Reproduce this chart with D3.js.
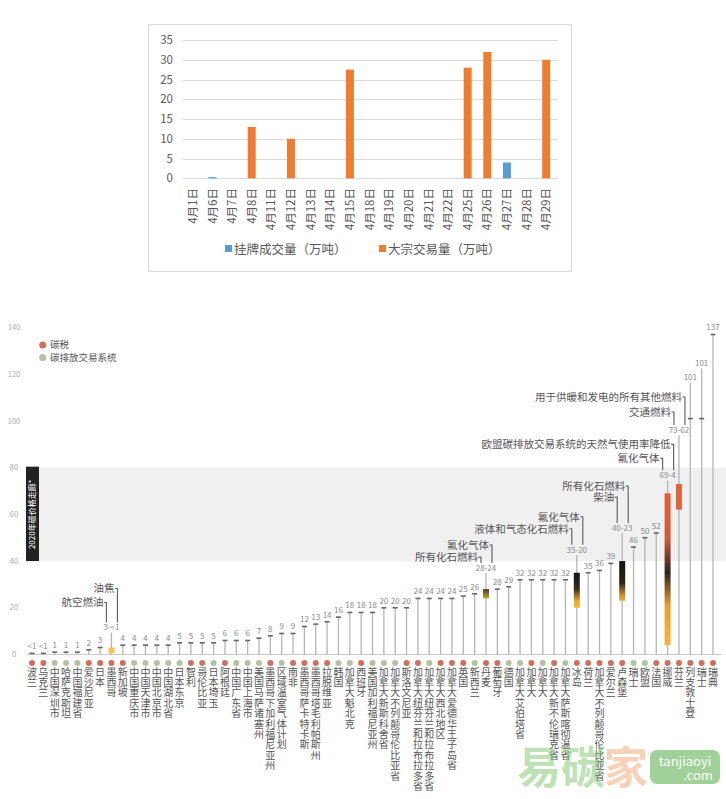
<!DOCTYPE html>
<html><head><meta charset="utf-8">
<script src="https://cdn.jsdelivr.net/npm/d3@7"></script>
<style>body{margin:0;background:#fff;} svg{display:block;font-family:"Noto Sans CJK SC","Noto Sans",sans-serif;}</style>
</head><body><svg id="c" width="726" height="799"></svg>
<script>
// ---------- top chart data ----------
const dates = ["4月1日","4月6日","4月7日","4月8日","4月11日","4月12日","4月13日","4月14日","4月15日","4月18日","4月19日","4月20日","4月21日","4月22日","4月25日","4月26日","4月27日","4月28日","4月29日"];
const listedVolume = [0,0.3,0,0,0,0,0,0,0,0,0,0,0,0,0,0,4,0,0];
const blockVolume  = [0,0,0,13,0,10,0,0,27.5,0,0,0,0,0,28,32,0,0,30];
const seriesNames = ["挂牌成交量（万吨）","大宗交易量（万吨）"];
const volumeTicks = [0,5,10,15,20,25,30,35];

// ---------- bottom chart data ----------
const regions = ["波兰","乌克兰","中国深圳市","哈萨克斯坦","中国福建省","爱沙尼亚","日本","墨西哥","新加坡","中国重庆市","中国天津市","中国北京市","中国湖北省","日本东京","智利","哥伦比亚","日本埼玉","阿根廷","中国广东省","中国上海市","美国马萨诸塞州","墨西哥下加利福尼亚州","区域温室气体计划","南非","墨西哥萨卡特卡斯","墨西哥塔毛利帕斯州","拉脱维亚","韩国","加拿大魁北克","西班牙","美国加利福尼亚州","加拿大新斯科舍省","加拿大不列颠哥伦比亚省","斯洛文尼亚","加拿大纽芬兰和拉布拉多省","加拿大纽芬兰和拉布拉多省","加拿大西北地区","加拿大爱德华王子岛省","英国","新西兰","丹麦","葡萄牙","德国","加拿大艾伯塔省","加拿大","加拿大","加拿大新不伦瑞克省","加拿大萨斯喀彻温省","冰岛","荷兰","加拿大不列颠哥伦比亚省","爱尔兰","卢森堡","瑞士","欧盟","法国","挪威","芬兰","列支敦士登","瑞士","瑞典"];
const priceHigh = [0.5,0.5,1,1,1,2,3,3,4,4,4,4,4,5,5,5,5,6,6,6,7,8,9,9,12,13,14,16,18,18,18,20,20,20,24,24,24,24,25,26,28,28,29,32,32,32,32,32,35,35,36,39,40,46,50,52,69,73,101,101,137];
const priceLow = [null,null,null,null,null,null,null,0.5,null,null,null,null,null,null,null,null,null,null,null,null,null,null,null,null,null,null,null,null,null,null,null,null,null,null,null,null,null,null,null,null,24,null,null,null,null,null,null,null,20,null,null,null,23,null,null,null,4,62,null,null,null];
const instrument = ["t","t","e","e","e","t","t","t","t","e","e","e","e","e","t","t","e","t","e","e","e","t","e","t","t","t","t","e","e","t","e","e","e","t","t","e","t","t","t","e","t","t","e","e","t","e","t","e","t","t","t","t","t","e","e","t","t","t","t","t","t"];
const priceTicks = [0,20,40,60,80,100,120,140];
const legendLabels = ["碳税","碳排放交易系统"];
const corridor = [40,80];
const corridorLabel = "2020年碳价格走廊*";
const annotations = [
  {i:7,  text:"油焦", side:1},  {i:7,  text:"航空燃油", side:-1},
  {i:40, text:"氟化气体", side:1}, {i:40, text:"所有化石燃料", side:-1},
  {i:48, text:"氟化气体", side:1}, {i:48, text:"液体和气态化石燃料", side:-1},
  {i:52, text:"所有化石燃料", side:1}, {i:52, text:"柴油", side:-1},
  {i:56, text:"欧盟碳排放交易系统的天然气使用率降低", side:1}, {i:56, text:"氟化气体", side:-1},
  {i:57, text:"用于供暖和发电的所有其他燃料", side:1}, {i:57, text:"交通燃料", side:-1}
];

// ---------- layout / style ----------
const labelLift = {7:20, 40:21, 48:23, 52:33, 56:18, 57:54, 58:41, 59:55};
const annLift = {7:[39,25], 40:[23,11], 48:[33,21], 52:[42,31], 56:[31,17], 57:[33,18]};
const rangeFill = {7:"url(#gMex)", 40:"url(#gDen)", 48:"url(#gIce)", 52:"url(#gLux)", 56:"url(#gNor)", 57:"#e0653e"};

const svg = d3.select("#c");
const defs = svg.append("defs");
function grad(id, stops){
  const g = defs.append("linearGradient").attr("id",id).attr("x1",0).attr("y1",0).attr("x2",0).attr("y2",1);
  stops.forEach(s=>g.append("stop").attr("offset",s[0]).attr("stop-color",s[1]));
}
grad("gMex",[[0,"#f0c050"],[1,"#f3c85a"]]);
grad("gDen",[[0,"#4a4222"],[1,"#caa23e"]]);
grad("gIce",[[0,"#141414"],[0.45,"#352c1c"],[0.8,"#e7a832"],[1,"#f2ba42"]]);
grad("gLux",[[0,"#141414"],[0.55,"#2a2418"],[0.85,"#c89030"],[1,"#e8ae3c"]]);
grad("gNor",[[0,"#e2613c"],[0.3,"#d05a36"],[0.52,"#2a2220"],[0.74,"#e6a030"],[1,"#f3b43e"]]);

// ===== TOP CHART =====
const topG = svg.append("g");
topG.append("rect").attr("x",148.5).attr("y",24.5).attr("width",423).attr("height",247)
  .attr("fill","#fff").attr("stroke","#d9d9d9");
const x1 = d3.scaleBand().domain(dates).range([183,556]);
const y1 = d3.scaleLinear().domain([0,35]).range([178.3,40]);
topG.selectAll("line.g").data(volumeTicks).join("line")
  .attr("x1",183).attr("x2",558).attr("y1",d=>Math.round(y1(d))+0.5).attr("y2",d=>Math.round(y1(d))+0.5)
  .attr("stroke","#d9d9d9").attr("stroke-width",1);
topG.selectAll("text.yl").data(volumeTicks).join("text")
  .attr("x",173).attr("y",d=>y1(d)).attr("dy","0.36em").attr("text-anchor","end")
  .attr("font-size",11.5).attr("fill","#595959").text(d=>d);
const bw = 8;
topG.selectAll("rect.b1").data(dates).join("rect")
  .attr("x",d=>x1(d)+x1.bandwidth()/2-bw/2).attr("width",bw)
  .attr("y",(d,i)=>y1(listedVolume[i])).attr("height",(d,i)=>y1(0)-y1(listedVolume[i]))
  .attr("fill","#5b9bd5");
topG.selectAll("rect.b2").data(dates).join("rect")
  .attr("x",d=>x1(d)+x1.bandwidth()/2-bw/2).attr("width",bw)
  .attr("y",(d,i)=>y1(blockVolume[i])).attr("height",(d,i)=>y1(0)-y1(blockVolume[i]))
  .attr("fill","#ed7d31");
topG.selectAll("text.xl").data(dates).join("text")
  .attr("transform",d=>`translate(${x1(d)+x1.bandwidth()/2},188) rotate(-90)`)
  .attr("dy","0.36em").attr("text-anchor","end").attr("font-size",11.5).attr("fill","#595959").text(d=>d);
const lg = topG.append("g");
[[225,"#5b9bd5"],[379,"#ed7d31"]].forEach((p,k)=>{
  lg.append("rect").attr("x",p[0]).attr("y",245).attr("width",7).attr("height",7).attr("fill",p[1]);
  lg.append("text").attr("x",p[0]+9).attr("y",249).attr("dy","0.36em").attr("font-size",12.5)
    .attr("fill","#595959").text(seriesNames[k]);
});

// ===== BOTTOM CHART =====
const bot = svg.append("g");
const idx = d3.range(regions.length);
const x2 = d3.scalePoint().domain(idx).range([32,713]);
const y2 = d3.scaleLinear().domain([0,140]).range([654.5,327.5]);
const red = "#d0705c", green = "#b3c2a5";

bot.append("rect").attr("x",26).attr("width",700).attr("y",y2(corridor[1])).attr("height",y2(corridor[0])-y2(corridor[1]))
  .attr("fill","#f0f0f0");
bot.append("rect").attr("x",26).attr("width",13).attr("y",y2(corridor[1])-1).attr("height",y2(corridor[0])-y2(corridor[1])+1)
  .attr("fill","#222");
bot.append("text").attr("transform",`translate(32.5,${(y2(corridor[0])+y2(corridor[1]))/2}) rotate(-90)`)
  .attr("text-anchor","middle").attr("dy","0.36em").attr("font-size",8).attr("fill","#fff").text(corridorLabel);

bot.selectAll("text.yt").data(priceTicks).join("text")
  .attr("x",14).attr("y",d=>y2(d)).attr("dy","0.36em").attr("text-anchor","middle")
  .attr("font-size",7.5).attr("fill","#aaa").text(d=>d);

bot.append("line").attr("x1",27).attr("x2",721).attr("y1",y2(0)).attr("y2",y2(0)).attr("stroke","#c8c8c8").attr("stroke-width",1);

const fmt = v => v<1 ? "<1" : String(v);
const labelY = i => y2(priceHigh[i]) - (labelLift[i]!==undefined ? labelLift[i] : 7);

bot.selectAll("line.stem").data(idx).join("line")
  .attr("x1",i=>x2(i)).attr("x2",i=>x2(i))
  .attr("y1",y2(0)).attr("y2",i=> labelLift[i]!==undefined ? labelY(i)+5 : y2(priceHigh[i]))
  .attr("stroke","#b5b5b5").attr("stroke-width",1.3);
bot.selectAll("rect.rng").data(idx.filter(i=>priceLow[i]!==null)).join("rect")
  .attr("x",i=>x2(i)-3).attr("width",6)
  .attr("y",i=>y2(priceHigh[i])).attr("height",i=>Math.max(3,y2(priceLow[i])-y2(priceHigh[i])))
  .attr("fill",i=>rangeFill[i]);
bot.selectAll("line.cap").data(idx.filter(i=>priceLow[i]===null)).join("line")
  .attr("x1",i=>x2(i)-2.5).attr("x2",i=>x2(i)+2.5)
  .attr("y1",i=>y2(priceHigh[i])).attr("y2",i=>y2(priceHigh[i]))
  .attr("stroke","#666").attr("stroke-width",1.6);
bot.selectAll("text.vl").data(idx).join("text")
  .attr("x",i=>x2(i)).attr("y",labelY).attr("dy","0.36em").attr("text-anchor","middle")
  .attr("font-size",8).attr("fill","#8a8a8a")
  .text(i=> priceLow[i]!==null ? fmt(priceHigh[i])+"-"+fmt(priceLow[i]) : fmt(priceHigh[i]));
bot.selectAll("circle.dot").data(idx).join("circle")
  .attr("cx",i=>x2(i)).attr("cy",663).attr("r",3)
  .attr("fill",i=>instrument[i]==="t"?red:green);
const rl = bot.selectAll("text.rl").data(idx).join("text")
  .attr("text-anchor","middle").attr("font-size",10).attr("fill","#555");
rl.each(function(i){
  const t = d3.select(this);
  Array.from(regions[i]).forEach((ch,k)=>{
    t.append("tspan").attr("x",x2(i)).attr("y",675.5+k*10.4).text(ch);
  });
});
[[red,legendLabels[0],345],[green,legendLabels[1],357.5]].forEach(p=>{
  bot.append("circle").attr("cx",42.7).attr("cy",p[2]).attr("r",3.5).attr("fill",p[0]);
  bot.append("text").attr("x",50).attr("y",p[2]).attr("dy","0.36em").attr("font-size",9.5).attr("fill","#555").text(p[1]);
});
annotations.forEach(a=>{
  const k = a.side>0 ? 0 : 1;
  const ty = labelY(a.i) - annLift[a.i][k];
  const bx = x2(a.i) + (a.side>0 ? 6 : -5);
  bot.append("text").attr("x",bx-3).attr("y",ty).attr("dy","0.36em").attr("text-anchor","end")
    .attr("font-size",10.5).attr("fill","#555").text(a.text);
  bot.append("path").attr("d",`M${bx-2.5},${ty}H${bx}V${labelY(a.i)-5}`)
    .attr("fill","none").attr("stroke","#666").attr("stroke-width",1.2);
});

const wm = svg.append("g").attr("font-weight","bold");
wm.append("text").attr("x",517).attr("y",784).attr("font-size",44).attr("fill","rgba(125,195,110,0.5)").text("易碳");
wm.append("text").attr("x",604).attr("y",784).attr("font-size",44).attr("fill","rgba(240,165,115,0.5)").text("家");
wm.append("rect").attr("x",650).attr("y",750).attr("width",70).attr("height",34).attr("rx",7).attr("fill","rgba(120,190,110,0.7)");
wm.append("text").attr("x",685).attr("y",766).attr("text-anchor","middle").attr("font-size",13).attr("font-weight","normal").attr("fill","#fff").text("tanjiaoyi");
wm.append("text").attr("x",698).attr("y",780).attr("text-anchor","middle").attr("font-size",13).attr("font-weight","normal").attr("fill","#fff").text(".com");
</script></body></html>
